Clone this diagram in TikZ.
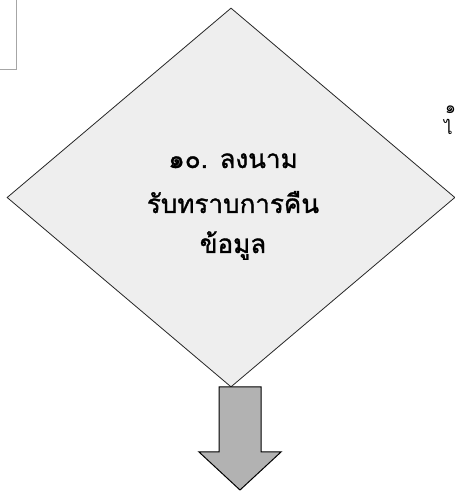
\documentclass[tikz,border=0pt]{standalone}
\usepackage{fontspec}
\newfontfamily\thaifont[Script=Thai,FakeBold=1.2]{Loma}
\newfontfamily\thaifrag[Script=Thai]{Loma}
\usetikzlibrary{shapes.geometric}
\begin{document}
\begin{tikzpicture}[x=1pt,y=1pt,
  decision/.style={draw=black!85, line width=0.8pt, fill=gray!13, shape=diamond,
    minimum width=448pt, minimum height=379pt, inner sep=0pt},
  blockarrow/.style={draw=black, line width=1pt, fill=gray!60, line join=miter},
  lbl/.style={font=\thaifont\fontsize{26}{30}\selectfont, anchor=base, inner sep=0pt},
  frag/.style={font=\thaifrag\fontsize{17}{20}\selectfont, anchor=base west, inner sep=0pt},
  frame/.style={draw=gray!70, line width=0.6pt}]
\useasboundingbox (0,0) rectangle (455,491);
\clip (0,0) rectangle (455,491);
\node[frame, minimum width=60pt, minimum height=90pt, anchor=south east] (box) at (17,421) {};
\node[decision] (d) at (231,293.5) {};
\node[lbl] (t1) at (233,323) {๑๐. ลงนาม};
\node[lbl] (t2) at (233,278) {รับทราบการคืน};
\node[lbl] (t3) at (233,238) {ข้อมูล};
\node[frag] (f1) at (445,377) {๑};
\node[frag] (f2) at (444,356) {ไ};
\coordinate (arrtop) at (240,104);
\draw[blockarrow] ([xshift=-21pt]arrtop) -- ++(0,-65) -- ++(-20,0) -- (240,1)
  -- (281,39) -- ++(-20,0) -- ([xshift=21pt]arrtop) -- cycle;
\end{tikzpicture}
\end{document}
